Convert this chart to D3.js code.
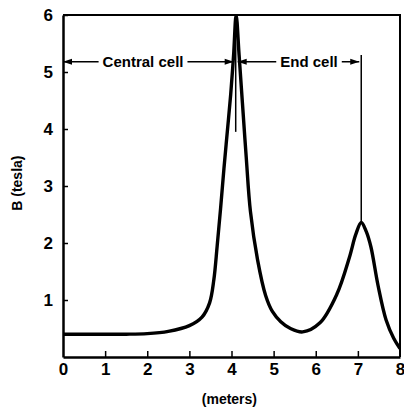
<!DOCTYPE html>
<html>
<head>
<meta charset="utf-8">
<script src="https://cdn.jsdelivr.net/npm/d3@7"></script>
<style>
  html, body { margin: 0; padding: 0; background: #fff; }
  svg { display: block; font-family: 'Liberation Sans', Arial, sans-serif; font-weight: bold; }
</style>
</head>
<body>
<div id="chart"></div>
<script>
// field along the axis
const positions = [0, 0.5, 1, 1.5, 2, 2.5, 3, 3.3, 3.48, 3.58, 3.66, 3.74, 3.82, 3.9, 3.98, 4.05, 4.11,
                   4.18, 4.26, 4.35, 4.45, 4.62, 4.81, 4.97, 5.17, 5.4, 5.69, 6.1, 6.5, 6.8, 6.95, 7.08,
                   7.2, 7.31, 7.48, 7.67, 7.85, 8]
const fieldB = [0.4, 0.4, 0.4, 0.4, 0.41, 0.45, 0.55, 0.7, 0.95, 1.35, 1.95, 2.6, 3.3, 3.95, 4.6, 5.3, 6.0,
                5.3, 4.45, 3.5, 2.55, 1.7, 1.08, 0.8, 0.62, 0.5, 0.44, 0.6, 1.1, 1.75, 2.15, 2.36,
                2.2, 1.93, 1.25, 0.65, 0.33, 0.15]
const xTicks = [0, 1, 2, 3, 4, 5, 6, 7, 8]
const yTicks = [1, 2, 3, 4, 5, 6]
const cells = [
  { label: 'Central cell', from: 0, to: 4.1, center: 1.9 },
  { label: 'End cell', from: 4.1, to: 7.08, center: 5.84 }
]
const cellLevel = 5.18
const markers = [
  { x: 4.1, top: 5.7, bottom: 3.95 },
  { x: 7.08, top: 5.3, bottom: 2.36 }
]

const SIZE = Object.freeze({ WIDTH: 404, HEIGHT: 408, LEFT: 63, TOP: 15, RIGHT: 4, BOTTOM: 51 })

const x = d3.scaleLinear().domain([0, 8]).range([SIZE.LEFT, SIZE.WIDTH - SIZE.RIGHT])
const y = d3.scaleLinear().domain([0, 6]).range([SIZE.HEIGHT - SIZE.BOTTOM, SIZE.TOP])

const svg = d3.select('#chart').append('svg')
  .attr('width', SIZE.WIDTH)
  .attr('height', SIZE.HEIGHT)

svg.append('clipPath').attr('id', 'plot')
  .append('rect')
  .attr('x', x(0)).attr('y', y(6))
  .attr('width', x(8) - x(0)).attr('height', y(0) - y(6))

// frame on top and right
svg.append('path')
  .attr('d', `M${x(0)},${y(6)}H${x(8)}V${y(0)}`)
  .attr('fill', 'none').attr('stroke', '#000').attr('stroke-width', 2)

const xAxis = svg.append('g')
  .attr('transform', `translate(0,${y(0)})`)
  .call(d3.axisBottom(x).tickValues(xTicks).tickFormat(d3.format('d'))
    .tickSizeInner(-6).tickSizeOuter(0).tickPadding(6))
const yAxis = svg.append('g')
  .attr('transform', `translate(${x(0)},0)`)
  .call(d3.axisLeft(y).tickValues(yTicks).tickFormat(d3.format('d'))
    .tickSizeInner(-5).tickSizeOuter(0).tickPadding(10))

;[xAxis, yAxis].forEach(g => {
  g.select('.domain').attr('stroke-width', 2.5)
  g.selectAll('.tick line').attr('stroke-width', 1.5)
  g.selectAll('.tick text')
    .style('font-size', '17px')
    .style('font-weight', 'bold')
    .style('font-family', "'Liberation Sans', Arial, sans-serif")
    .attr('fill', '#000')
})
xAxis.selectAll('.tick').filter(d => d === 0 || d === 8).select('line').remove()

const line = d3.line()
  .x(d => x(d[0]))
  .y(d => y(d[1]))
  .curve(d3.curveCatmullRom.alpha(0.5))

svg.append('path')
  .datum(d3.zip(positions, fieldB))
  .attr('clip-path', 'url(#plot)')
  .attr('d', line)
  .attr('fill', 'none')
  .attr('stroke', '#000')
  .attr('stroke-width', 3.4)
  .attr('stroke-linejoin', 'round')

// cell annotations
const arrowHead = (px, py, dir) =>
  `M${px},${py}L${px - dir * 9},${py - 3}L${px - dir * 9},${py + 3}Z`

const yLevel = y(cellLevel)
cells.forEach(c => {
  const t = svg.append('text')
    .attr('x', x(c.center))
    .attr('y', yLevel + 5)
    .attr('text-anchor', 'middle')
    .style('font-size', '15px')
    .text(c.label)
  const w = t.node().getComputedTextLength()
  const left = x(c.center) - w / 2 - 4,
        right = x(c.center) + w / 2 + 4
  const x0 = x(c.from) + (c.from === 0 ? 0 : 2),
        x1 = x(c.to) - 2
  svg.append('path')
    .attr('d', `M${x0},${yLevel}H${left}M${right},${yLevel}H${x1}`)
    .attr('stroke', '#000').attr('stroke-width', 1.5)
  svg.append('path').attr('d', arrowHead(x0, yLevel, -1)).attr('fill', '#000')
  svg.append('path').attr('d', arrowHead(x1, yLevel, 1)).attr('fill', '#000')
})

markers.forEach(m => {
  svg.append('line')
    .attr('x1', x(m.x)).attr('x2', x(m.x))
    .attr('y1', y(m.top)).attr('y2', y(m.bottom))
    .attr('stroke', '#000').attr('stroke-width', 1.5)
})

// axis titles
svg.append('text')
  .attr('transform', `translate(22,${y(3.05)}) rotate(-90)`)
  .attr('text-anchor', 'middle')
  .style('font-size', '14px')
  .text('B (tesla)')

svg.append('text')
  .attr('x', x(3.95))
  .attr('y', 404)
  .attr('text-anchor', 'middle')
  .style('font-size', '14px')
  .text('(meters)')
</script>
</body>
</html>
